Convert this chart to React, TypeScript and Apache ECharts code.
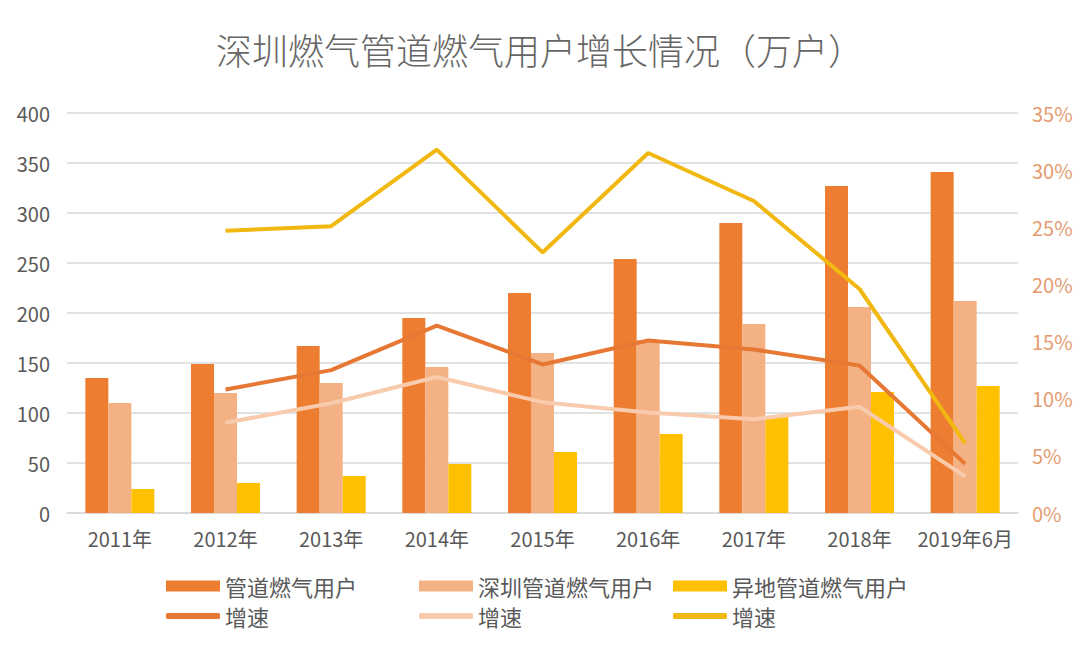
import { useEffect, useRef } from "react";
import * as echarts from "echarts";

const categories = ["2011年", "2012年", "2013年", "2014年", "2015年", "2016年", "2017年", "2018年", "2019年6月"];
const pipeUsers = [135, 149, 167, 195, 220, 254, 290, 327, 341];
const szUsers = [110, 120, 130, 146, 160, 173, 189, 206, 212];
const otherUsers = [24, 30, 37, 49, 61, 79, 97, 121, 127];
const pipeGrowth = [null, 10.8, 12.5, 16.4, 13.0, 15.1, 14.3, 12.9, 4.3];
const szGrowth = [null, 7.9, 9.6, 11.9, 9.7, 8.8, 8.2, 9.3, 3.2];
const otherGrowth = [null, 24.7, 25.1, 31.8, 22.8, 31.5, 27.3, 19.6, 6.1];

const FONT = "Noto Sans CJK SC";

const legendItems = [
  { name: "管道燃气用户", left: 166, top: 575, bar: true },
  { name: "深圳管道燃气用户", left: 419, top: 575, bar: true },
  { name: "异地管道燃气用户", left: 673, top: 575, bar: true },
  { name: "增速1", left: 166, top: 605, bar: false },
  { name: "增速2", left: 419, top: 605, bar: false },
  { name: "增速3", left: 673, top: 605, bar: false },
];

export default function App() {
  const ref = useRef<HTMLDivElement>(null);

  useEffect(() => {
    document.body.style.margin = "0";
    if (!ref.current) return;
    const chart = echarts.init(ref.current, null, { renderer: "svg" });
    chart.setOption({
      animation: false,
      backgroundColor: "#ffffff",
      textStyle: { fontFamily: FONT },
      title: {
        text: "深圳燃气管道燃气用户增长情况（万户）",
        left: "center",
        top: 26,
        textStyle: { fontSize: 36, fontWeight: 300, color: "#666666", fontFamily: FONT },
      },
      legend: legendItems.map((it) => ({
        left: it.left,
        top: it.top,
        padding: 0,
        itemWidth: 54,
        itemHeight: it.bar ? 11 : 6,
        icon: it.bar ? "rect" : "roundRect",
        selectedMode: false,
        data: [it.name],
        formatter: (n: string) => (n.startsWith("增速") ? "增速" : n),
        textStyle: { fontSize: 22, color: "#595959", fontFamily: FONT },
      })),
      grid: { left: 67, right: 62, top: 113, bottom: 134 },
      xAxis: {
        type: "category",
        data: categories,
        axisLine: { lineStyle: { color: "#d9d9d9", width: 1.5 } },
        axisTick: { show: false },
        axisLabel: { interval: 0, fontSize: 20, color: "#595959", margin: 15, fontFamily: FONT },
      },
      yAxis: [
        {
          type: "value",
          min: 0,
          max: 400,
          interval: 50,
          axisLine: { show: false },
          axisTick: { show: false },
          splitLine: { lineStyle: { color: "#d9d9d9", width: 1.5 } },
          axisLabel: { fontSize: 20, color: "#595959", margin: 17, fontFamily: FONT },
        },
        {
          type: "value",
          min: 0,
          max: 35,
          interval: 5,
          axisLine: { show: false },
          axisTick: { show: false },
          splitLine: { show: false },
          axisLabel: { fontSize: 20, color: "#E49B6F", margin: 14, formatter: "{value}%", fontFamily: FONT },
        },
      ],
      series: [
        { name: "管道燃气用户", type: "bar", data: pipeUsers, barWidth: 23, barGap: "0%", itemStyle: { color: "#ED7D31" } },
        { name: "深圳管道燃气用户", type: "bar", data: szUsers, barWidth: 23, barGap: "0%", itemStyle: { color: "#F4B183" } },
        { name: "异地管道燃气用户", type: "bar", data: otherUsers, barWidth: 23, barGap: "0%", itemStyle: { color: "#FFC000" } },
        {
          name: "增速1",
          type: "line",
          yAxisIndex: 1,
          data: pipeGrowth,
          symbol: "none",
          lineStyle: { color: "#E67834", width: 4 },
          itemStyle: { color: "#E67834" },
        },
        {
          name: "增速2",
          type: "line",
          yAxisIndex: 1,
          data: szGrowth,
          symbol: "none",
          lineStyle: { color: "#F8CBAD", width: 4 },
          itemStyle: { color: "#F8CBAD" },
        },
        {
          name: "增速3",
          type: "line",
          yAxisIndex: 1,
          data: otherGrowth,
          symbol: "none",
          lineStyle: { color: "#F1B811", width: 4 },
          itemStyle: { color: "#F1B811" },
        },
      ],
    });
    const onResize = () => chart.resize();
    window.addEventListener("resize", onResize);
    return () => {
      window.removeEventListener("resize", onResize);
      chart.dispose();
    };
  }, []);

  return <div ref={ref} style={{ width: 1080, height: 647 }} />;
}
